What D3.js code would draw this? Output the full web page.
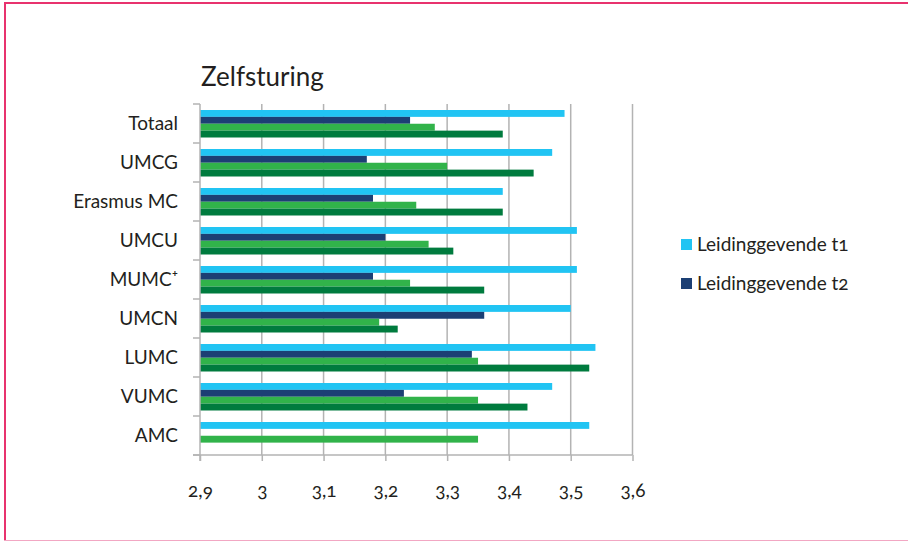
<!DOCTYPE html>
<html>
<head>
<meta charset="utf-8">
<script src="https://cdn.jsdelivr.net/npm/d3@7"></script>
<style>
  html, body { margin: 0; padding: 0; background: #fff; }
  svg { display: block; }
  text { font-family: Lato, "Open Sans", sans-serif; fill: #231f20; font-variant-numeric: oldstyle-nums; }
</style>
</head>
<body>
<svg id="chart" width="908" height="542"></svg>
<script>
const title = "Zelfsturing";
const categories = ["Totaal", "UMCG", "Erasmus MC", "UMCU", "MUMC\u207A", "UMCN", "LUMC", "VUMC", "AMC"];
const seriesNames = ["Leidinggevende t1", "Leidinggevende t2", "Medewerkers t1", "Medewerkers t2"];
const leidinggevendeT1 = [3.49, 3.47, 3.39, 3.51, 3.51, 3.50, 3.54, 3.47, 3.53];
const leidinggevendeT2 = [3.24, 3.17, 3.18, 3.20, 3.18, 3.36, 3.34, 3.23, null];
const medewerkersT1    = [3.28, 3.30, 3.25, 3.27, 3.24, 3.19, 3.35, 3.35, 3.35];
const medewerkersT2    = [3.39, 3.44, 3.39, 3.31, 3.36, 3.22, 3.53, 3.43, null];
const seriesValues = [leidinggevendeT1, leidinggevendeT2, medewerkersT1, medewerkersT2];
const seriesColors = ["#21c4f3", "#1c3f74", "#31b34a", "#007b3e"];
const legendSeries = [0, 1];
const xTicks = [2.9, 3.0, 3.1, 3.2, 3.3, 3.4, 3.5, 3.6];
const xDomain = [2.9, 3.6];

const svg = d3.select("#chart");

// frame
svg.append("line").attr("x1", 4).attr("x2", 908).attr("y1", 3).attr("y2", 3)
  .attr("stroke", "#e8326e").attr("stroke-width", 2);
svg.append("line").attr("x1", 5).attr("x2", 5).attr("y1", 2).attr("y2", 541)
  .attr("stroke", "#e8326e").attr("stroke-width", 2);
svg.append("line").attr("x1", 4).attr("x2", 908).attr("y1", 540.5).attr("y2", 540.5)
  .attr("stroke", "#f2a7c3").attr("stroke-width", 1);

const pLeft = 200, pRight = 632.5, pTop = 104, pBottom = 455;

const x = d3.scaleLinear().domain(xDomain).range([pLeft, pRight]);
const y = d3.scaleBand().domain(categories).range([pTop, pBottom]).padding(0);
const inner = d3.scaleBand().domain(d3.range(seriesNames.length)).range([6, y.bandwidth() - 5.5]).padding(0);

// gridlines
svg.append("g").selectAll("line").data(xTicks.slice(1)).join("line")
  .attr("x1", d => x(d)).attr("x2", d => x(d))
  .attr("y1", pTop).attr("y2", pBottom)
  .attr("stroke", "#b3b3b3").attr("stroke-width", 1.5);

// bars
const rows = categories.map((c, i) => ({ c, vals: seriesValues.map(s => s[i]) }));
const g = svg.append("g");
rows.forEach(r => {
  r.vals.forEach((v, si) => {
    if (v == null) return;
    g.append("rect")
      .attr("x", x(xDomain[0]))
      .attr("y", y(r.c) + inner(si))
      .attr("width", x(v) - x(xDomain[0]))
      .attr("height", inner.bandwidth())
      .attr("fill", seriesColors[si]);
  });
});

// x axis
const xAxis = d3.axisBottom(x).tickValues(xTicks).tickSize(6).tickPadding(23)
  .tickFormat(d => d3.format(".1f")(d).replace(".0", "").replace(".", ","));
const gx = svg.append("g").attr("transform", `translate(0,${pBottom})`).call(xAxis);
gx.select(".domain").attr("stroke", "#b3b3b3").attr("stroke-width", 1.5)
  .attr("d", `M${pLeft - 7},0H${pRight}`);
gx.selectAll(".tick line").attr("stroke", "#b3b3b3").attr("stroke-width", 1.5);
gx.selectAll(".tick text").attr("font-size", 19).attr("fill", "#231f20")
  .style("font-family", "Lato, 'Open Sans', sans-serif");

// y axis
const gy = svg.append("g").attr("transform", `translate(${pLeft},0)`);
gy.append("line").attr("x1", 0).attr("x2", 0).attr("y1", pTop).attr("y2", pBottom + 6)
  .attr("stroke", "#b3b3b3").attr("stroke-width", 1.5);
const boundaries = categories.map(c => y(c)).concat([pBottom]);
gy.selectAll("line.tk").data(boundaries).join("line").attr("class", "tk")
  .attr("x1", -7).attr("x2", 0).attr("y1", d => d).attr("y2", d => d)
  .attr("stroke", "#b3b3b3").attr("stroke-width", 1.5);
gy.selectAll("text").data(categories).join("text")
  .attr("x", -22).attr("y", d => y(d) + y.bandwidth() / 2)
  .attr("dy", "0.35em").attr("text-anchor", "end")
  .attr("font-size", 19).text(d => d);

// title
svg.append("text").attr("x", 201).attr("y", 86).attr("font-size", 26).text(title);

// legend
const lg = svg.append("g");
legendSeries.forEach((si, k) => {
  const ly = 239 + k * 39;
  lg.append("rect").attr("x", 681).attr("y", ly).attr("width", 11).attr("height", 11)
    .attr("fill", seriesColors[si]);
  lg.append("text").attr("x", 697).attr("y", ly + 12).attr("font-size", 19)
    .text(seriesNames[si]);
});
</script>
</body>
</html>
